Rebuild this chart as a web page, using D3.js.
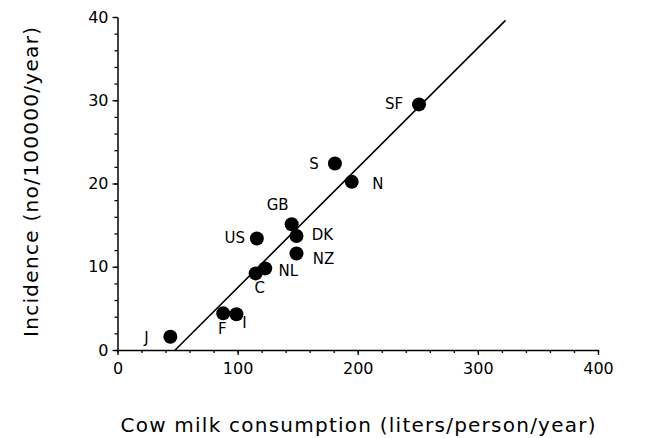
<!DOCTYPE html>
<html>
<head>
<meta charset="utf-8">
<script src="https://cdn.jsdelivr.net/npm/d3@7"></script>
<style>
  html, body { margin: 0; padding: 0; background: #fff; }
  svg { display: block; font-family: "DejaVu Sans", sans-serif; }
</style>
</head>
<body>
<div id="chart"></div>
<script>
// Cow milk consumption vs incidence, one point per country
var countries = ['J', 'F', 'I', 'C', 'NL', 'US', 'GB', 'DK', 'NZ', 'S', 'N', 'SF'];
var milk = [44, 88, 99, 115, 123, 116, 145, 149, 149, 181, 195, 251];
var incidence = [1.6, 4.4, 4.3, 9.2, 9.8, 13.4, 15.1, 13.7, 11.6, 22.4, 20.2, 29.5];

// regression line end points
var fitX = [48, 323];
var fitY = [0, 39.6];

var xTicks = [0, 100, 200, 300, 400];
var yTicks = [0, 10, 20, 30, 40];

// label offsets from the dot (px), placement only
var labelDx = [-24, -1, 8, 4, 23, -22, -14, 26, 27, -21, 26, -25];
var labelDy = [1, 16, 9, 15, 3, 0, -19, -1, 6, 0, 2, 0];

var width = 667, height = 438;

var svg = d3.select('#chart').append('svg')
    .attr('width', width)
    .attr('height', height);

var x = d3.scaleLinear().domain([0, 400]).range([117.5, 598]);
var y = d3.scaleLinear().domain([0, 40]).range([350, 17]);

// minor ticks first, then the labelled ones
svg.append('g')
    .attr('transform', 'translate(0,' + y(0) + ')')
    .call(d3.axisBottom(x).tickValues(d3.range(0, 401, 20)).tickSize(3).tickFormat(''))
    .call(function (g) { g.select('.domain').remove(); });

svg.append('g')
    .attr('transform', 'translate(' + x(0) + ',0)')
    .call(d3.axisLeft(y).tickValues(d3.range(0, 41, 2)).tickSize(3).tickFormat(''))
    .call(function (g) { g.select('.domain').remove(); });

svg.append('g')
    .attr('transform', 'translate(0,' + y(0) + ')')
    .call(d3.axisBottom(x).tickValues(xTicks).tickSize(5).tickPadding(8).tickSizeOuter(0));

svg.append('g')
    .attr('transform', 'translate(' + x(0) + ',0)')
    .call(d3.axisLeft(y).tickValues(yTicks).tickSize(5).tickPadding(4).tickSizeOuter(0));

svg.selectAll('.tick text')
    .attr('font-family', '"DejaVu Sans", sans-serif')
    .attr('font-size', '16px')
    .attr('fill', '#000');

svg.selectAll('.domain')
    .attr('stroke', '#000')
    .attr('stroke-width', 1.5);
svg.selectAll('.tick line')
    .attr('stroke', '#000')
    .attr('stroke-width', 1.3);

// regression line
svg.append('line')
    .attr('x1', x(fitX[0])).attr('y1', y(fitY[0]))
    .attr('x2', x(fitX[1])).attr('y2', y(fitY[1]))
    .attr('stroke', '#000')
    .attr('stroke-width', 1.6);

var pts = countries.map(function (c, i) {
    return { name: c, milk: milk[i], inc: incidence[i], dx: labelDx[i], dy: labelDy[i] };
});

svg.append('g').selectAll('circle')
    .data(pts)
    .join('circle')
    .attr('cx', function (d) { return x(d.milk); })
    .attr('cy', function (d) { return y(d.inc); })
    .attr('r', 7)
    .attr('fill', '#000');

svg.append('g').selectAll('text')
    .data(pts)
    .join('text')
    .attr('x', function (d) { return x(d.milk) + d.dx; })
    .attr('y', function (d) { return y(d.inc) + d.dy; })
    .attr('text-anchor', 'middle')
    .attr('dominant-baseline', 'central')
    .attr('font-size', '15px')
    .attr('fill', '#000')
    .text(function (d) { return d.name; });

// axis titles
svg.append('text')
    .attr('x', 358)
    .attr('y', 432)
    .attr('text-anchor', 'middle')
    .attr('font-size', '20px')
    .attr('textLength', 475)
    .attr('lengthAdjust', 'spacing')
    .attr('fill', '#000')
    .text('Cow milk consumption (liters/person/year)');

svg.append('text')
    .attr('transform', 'translate(38,182) rotate(-90)')
    .attr('text-anchor', 'middle')
    .attr('font-size', '20px')
    .attr('textLength', 310)
    .attr('lengthAdjust', 'spacing')
    .attr('fill', '#000')
    .text('Incidence (no/100000/year)');
</script>
</body>
</html>
